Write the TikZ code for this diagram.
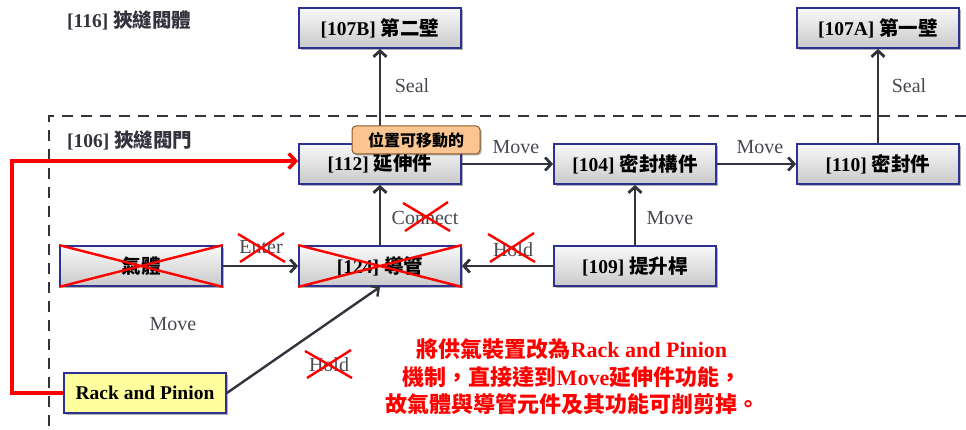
\documentclass[tikz,border=0pt]{standalone}
\usepackage{fontspec}
\setmainfont{Liberation Serif}
\newfontfamily\cjkfont{Noto Sans CJK TC}
\usetikzlibrary{arrows.meta,shadows}
\definecolor{boxblue}{HTML}{2E3192}
\definecolor{ink}{HTML}{33333D}
\definecolor{badgefill}{HTML}{FAC590}
\definecolor{badgeline}{HTML}{8A5A2C}
\definecolor{rackfill}{HTML}{FFFF9E}
\newcommand\zh[1]{{\cjkfont #1}}
\begin{document}
\begin{tikzpicture}[x=1pt,y=-1pt,
  box/.style={draw=boxblue, line width=1.8pt, top color=gray!5, bottom color=gray!42,
    minimum width=162pt, minimum height=40pt, inner sep=0pt,
    font=\fontsize{19.5}{21}\selectfont\bfseries,
    drop shadow={shadow xshift=2pt,shadow yshift=-2pt,opacity=0.3,fill=black}},
  rackbox/.style={box, top color=rackfill, bottom color=rackfill, fill=rackfill},
  conn/.style={draw=ink, line width=2.8pt, -{Straight Barb[length=6pt,width=13pt]}},
  redconn/.style={draw=red, line width=3.5pt, line join=miter, -{Straight Barb[length=7pt,width=15pt]}},
  lbl/.style={text=ink!90, font=\fontsize{20}{22}\selectfont, inner sep=1pt},
  xmark/.style={draw=red, line width=2.4pt},
  title/.style={text=ink, font=\fontsize{19.5}{21}\selectfont\bfseries, inner sep=0pt},
  badge/.style={draw=badgeline, line width=1pt, fill=badgefill, rounded corners=4pt,
    minimum width=128pt, minimum height=28pt, inner sep=0pt,
    font=\fontsize{16}{18}\selectfont\bfseries,
    drop shadow={shadow xshift=1.5pt,shadow yshift=-1.5pt,opacity=0.3,fill=black}}
]
\useasboundingbox (0,0) rectangle (966,430);

% dashed frame of [106]
\coordinate (fTL) at (49,116);
\coordinate (fTR) at (966,116);
\coordinate (fBL) at (49,430);
\draw[ink, line width=2.6pt, dash pattern=on 11pt off 8pt] (fTR) -- (fTL) -- (fBL);

\node[title, anchor=west] (t116) at (67,20) {[116] \zh{狹縫閥體}};
\node[title, anchor=west] (t106) at (67,140) {[106] \zh{狹縫閥門}};

% boxes
\node[box] (b107B) at (380,28) {[107B] \zh{第二壁}};
\node[box] (b107A) at (878,28) {[107A] \zh{第一壁}};
\node[box] (b112) at (380,164) {[112] \zh{延伸件}};
\node[box] (b104) at (635,164) {[104] \zh{密封構件}};
\node[box] (b110) at (878,164) {[110] \zh{密封件}};
\node[box] (bgas) at (141,266) {\zh{氣體}};
\node[box] (b124) at (380,266) {[124] \zh{導管}};
\node[box] (b109) at (635,266) {[109] \zh{提升桿}};
\node[rackbox] (brack) at (145,393) {Rack and Pinion};

% connectors
\draw[conn] (b112) -- (b107B);
\draw[conn] (b110) -- (b107A);
\draw[conn] (b112) -- (b104);
\draw[conn] (b104) -- (b110);
\draw[conn] (b124) -- (b112);
\draw[conn] (b109) -- (b104);
\draw[conn] (b109) -- (b124);
\draw[conn] (bgas) -- (b124);
\draw[conn, line width=2.4pt] (brack.east) -- (b124.south);

% red route
\coordinate (r1) at (12,393);
\coordinate (r2) at (12,161);
\draw[redconn] (brack.west) -- (r1) -- (r2) -- (b112.west |- r2);

% labels
\node[lbl] (lSealB) at (412,86) {Seal};
\node[lbl] (lSealA) at (909,86) {Seal};
\node[lbl] (lMove1) at (516,147) {Move};
\node[lbl] (lMove2) at (760,147) {Move};
\node[lbl] (lConnect) at (425,218) {Connect};
\node[lbl] (lMove3) at (670,218) {Move};
\node[lbl] (lHold1) at (513,250) {Hold};
\node[lbl] (lEnter) at (261,247) {Enter};
\node[lbl] (lMove4) at (173,324) {Move};
\node[lbl] (lHold2) at (329,365) {Hold};

% badge
\node[badge] (badge) at (416,140) {\zh{位置可移動的}};

% red crosses over removed items
\draw[xmark] (bgas.north west) -- (bgas.south east) (bgas.south west) -- (bgas.north east);
\draw[xmark] (b124.north west) -- (b124.south east) (b124.south west) -- (b124.north east);
\draw[xmark] (403,203) -- (450,231) (405,231) -- (448,202);
\draw[xmark] (238,234) -- (285,262) (240,262) -- (284,233);
\draw[xmark] (488,234) -- (535,262) (490,262) -- (534,233);
\draw[xmark] (305,351) -- (352,378) (307,378) -- (351,350);

% note
\node[text=red, align=center, font=\fontsize{22}{27.5}\selectfont\bfseries] (note) at (572,377)
  {\zh{將供氣裝置改為}Rack and Pinion\\
   \zh{機制，直接達到}Move\zh{延伸件功能，}\\
   \zh{故氣體與導管元件及其功能可削剪掉。}};
\end{tikzpicture}
\end{document}
